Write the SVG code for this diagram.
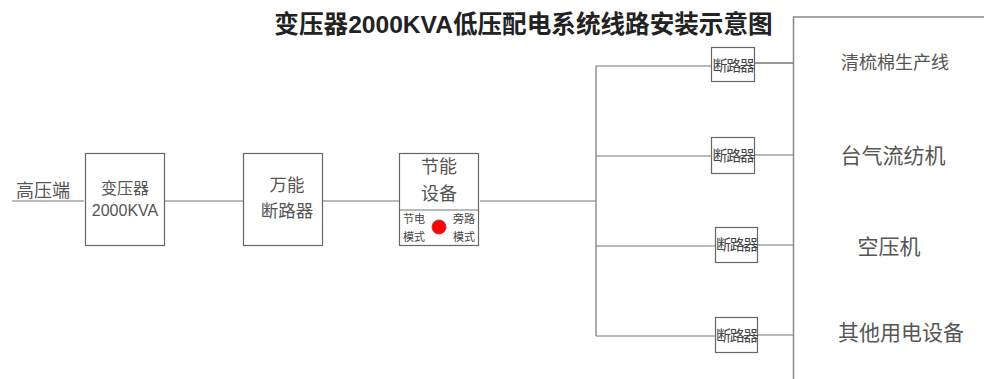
<svg xmlns="http://www.w3.org/2000/svg" width="984" height="379" viewBox="0 0 984 379">
<style>
text{font-family:"Noto Sans CJK SC","Liberation Sans",sans-serif;fill:#555;text-anchor:middle}
.b{fill:#fff;stroke:#666;stroke-width:1.2}
.w{stroke:#777;stroke-width:1.2;fill:none}
.s{font-size:15px;fill:#444;letter-spacing:-1.4px}
.m{font-size:11px;fill:#444}
</style>
<rect width="984" height="379" fill="#fff"/>
<text x="523.500" y="33" style="font-family:'Liberation Sans','Noto Sans CJK SC',sans-serif;font-size:24.6px;font-weight:bold;fill:#222">变压器2000KVA低压配电系统线路安装示意图</text>
<g id="connectors">
<path class="w" d="M12 201H84M165 201H243M323 201H399M480 201H596M596 66V336"/>
<path class="w" d="M596 66H711M596 156H711M596 246H715M596 336H715"/>
<path d="M755 63H793" stroke="#333" stroke-width="1.1"/>
<path class="w" d="M755 155H793M758 245H793M758 335H793"/>
</g>
<g id="hv"><text x="43" y="197" style="font-size:18px">高压端</text></g>
<g id="transformer"><rect class="b" x="85.500" y="153.500" width="79" height="92"/><text x="125" y="194" font-size="16">变压器</text><text x="125" y="216" font-size="16" style="font-family:'Liberation Sans',sans-serif">2000KVA</text></g>
<g id="acb"><rect class="b" x="243.500" y="153.500" width="79" height="92"/><text x="287" y="191" style="font-size:17.500px">万能</text><text x="287" y="217" style="font-size:17.500px">断路器</text></g>
<g id="saver"><rect class="b" x="399.500" y="153.500" width="79" height="92"/><path class="w" d="M400 210H479"/><text x="439" y="173" style="font-size:18px">节能</text><text x="439" y="200" style="font-size:18px">设备</text><text x="414" y="223" class="m">节电</text><text x="414" y="241" class="m">模式</text><text x="464" y="223" class="m">旁路</text><text x="464" y="241" class="m">模式</text><circle cx="439" cy="227" r="7" fill="#f00" stroke="#c33" stroke-width="1"/></g>
<g id="br1"><rect class="b" x="711.500" y="47.500" width="43" height="34"/><text x="733" y="71" class="s">断路器</text></g>
<g id="br2"><rect class="b" x="711.500" y="137.500" width="43" height="36"/><text x="733" y="161" class="s">断路器</text></g>
<g id="br3"><rect class="b" x="715.500" y="227.500" width="42" height="35"/><text x="736.500" y="250" class="s">断路器</text></g>
<g id="br4"><rect class="b" x="715.500" y="317.500" width="42" height="35"/><text x="736.500" y="341" class="s">断路器</text></g>
<g id="loads"><path d="M984 17H793.500V379" fill="none" stroke="#888" stroke-width="1.5"/><text x="895" y="69" style="font-size:18px">清梳棉生产线</text><text x="893" y="163" style="font-size:21px">台气流纺机</text><text x="889" y="254" style="font-size:21px">空压机</text><text x="901" y="340" style="font-size:21px">其他用电设备</text></g>
</svg>
